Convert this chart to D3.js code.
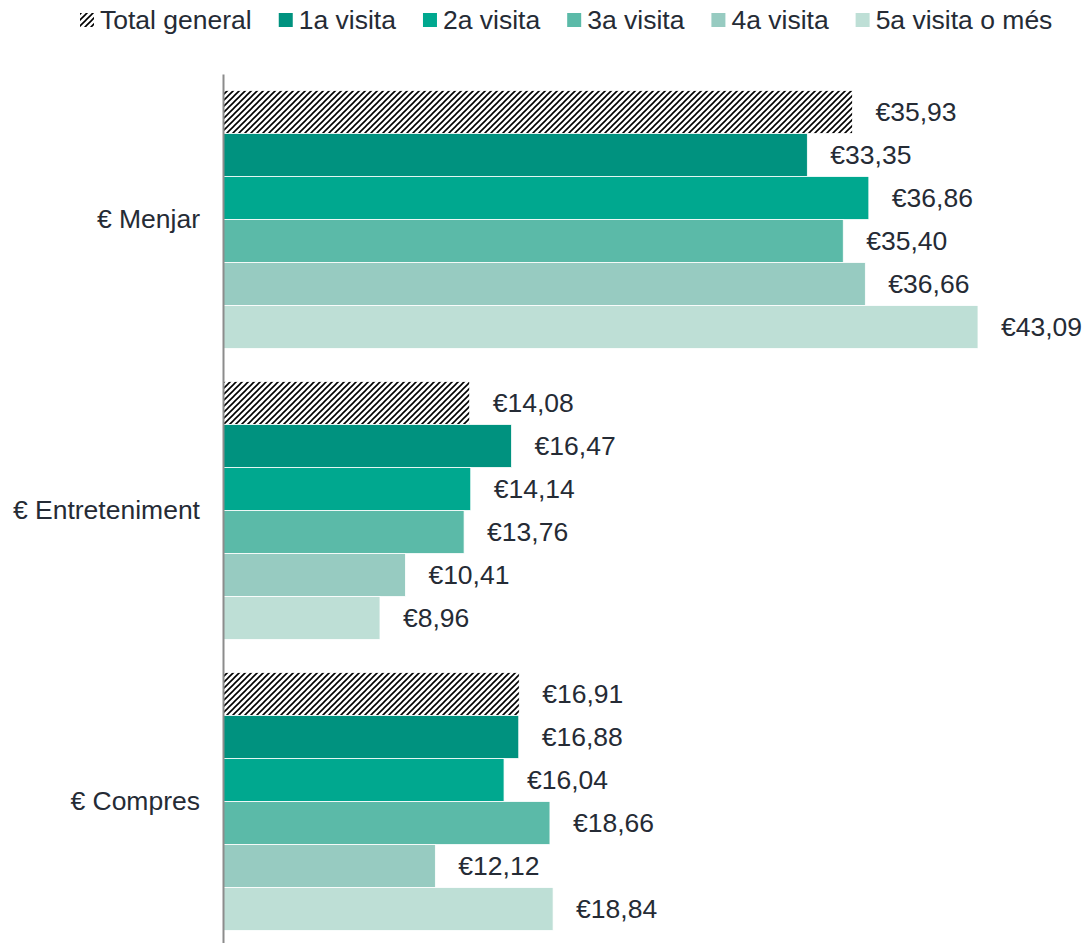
<!DOCTYPE html>
<html lang="en">
<head>
  <meta charset="UTF-8">
  <title>Despesa per visita</title>
  <script src="https://d3js.org/d3.v7.min.js"></script>
  <style>
    body {
      margin: 0;
      background: #fff;
      font-family: Arial, "Liberation Sans", sans-serif;
    }
    svg text {
      fill: #252b35;
    }
  </style>
</head>
<body>
  <svg id="chart" width="1088" height="943"></svg>

  <script>
    // Data
    const categories = ["€ Menjar", "€ Entreteniment", "€ Compres"];
    const series = ["Total general", "1a visita", "2a visita", "3a visita", "4a visita", "5a visita o més"];
    const totalGeneral = [35.93, 14.08, 16.91];
    const visit1 = [33.35, 16.47, 16.88];
    const visit2 = [36.86, 14.14, 16.04];
    const visit3 = [35.40, 13.76, 18.66];
    const visit4 = [36.66, 10.41, 12.12];
    const visit5 = [43.09, 8.96, 18.84];
    const seriesValues = [totalGeneral, visit1, visit2, visit3, visit4, visit5];
    const colors = ["url(#hatch)", "#00927f", "#00a88f", "#5bbaa8", "#97cbc1", "#bedfd6"];
    const fontSize = "26.5px";

    const svg = d3.select("#chart");

    // diagonal hatch for "Total general"
    const pat = svg.append("defs").append("pattern")
      .attr("id", "hatch")
      .attr("patternUnits", "userSpaceOnUse")
      .attr("width", 6)
      .attr("height", 6);
    pat.append("rect").attr("width", 6).attr("height", 6).attr("fill", "#fff");
    pat.append("path")
      .attr("d", "M0,6 L6,0 M-1,1 L1,-1 M5,7 L7,5")
      .attr("stroke", "#000")
      .attr("stroke-width", 1.6);

    const rows = [];
    categories.forEach((c, i) => {
      series.forEach((s, j) => rows.push({ cat: c, series: s, value: seriesValues[j][i], idx: j }));
    });

    const x = d3.scaleLinear()
      .domain([0, d3.max(visit5)])
      .range([223, 978]);

    const y = d3.scaleBand()
      .domain(categories)
      .range([74, 947])
      .paddingInner(0.113)
      .paddingOuter(0.0565);

    const ySub = d3.scaleBand()
      .domain(series)
      .range([0, y.bandwidth()]);

    // bars
    svg.append("g")
      .selectAll("rect")
      .data(rows)
      .join("rect")
      .attr("x", x(0))
      .attr("y", d => y(d.cat) + ySub(d.series))
      .attr("width", d => x(d.value) - x(0))
      .attr("height", ySub.bandwidth())
      .attr("fill", d => colors[d.idx])
      .attr("stroke", "#fff")
      .attr("stroke-width", 0.8);

    // value labels
    svg.append("g")
      .selectAll("text")
      .data(rows)
      .join("text")
      .attr("x", d => x(d.value) + 23)
      .attr("y", d => y(d.cat) + ySub(d.series) + ySub.bandwidth() / 2)
      .attr("dy", "0.35em")
      .style("font-size", fontSize)
      .text(d => "€" + d.value.toFixed(2).replace(".", ","));

    // category axis
    const axis = svg.append("g")
      .attr("transform", `translate(${x(0)},0)`)
      .call(d3.axisLeft(y).tickSize(0).tickPadding(23));
    axis.select(".domain").attr("stroke", "#8c8c8c").attr("stroke-width", 2);
    axis.selectAll("text")
      .style("font-size", fontSize)
      .style("font-family", "Arial, 'Liberation Sans', sans-serif")
      .attr("fill", "#252b35");

    // legend
    const legend = svg.append("g").attr("transform", "translate(80,20)");
    let lx = 0;
    series.forEach((s, i) => {
      const item = legend.append("g").attr("transform", `translate(${lx},0)`);
      item.append("rect")
        .attr("x", 0).attr("y", -7)
        .attr("width", 14).attr("height", 14)
        .attr("fill", colors[i]);
      const t = item.append("text")
        .attr("x", 20)
        .attr("dy", "0.35em")
        .style("font-size", fontSize)
        .text(s);
      lx += 20 + t.node().getComputedTextLength() + 27;
    });
  </script>
</body>
</html>
